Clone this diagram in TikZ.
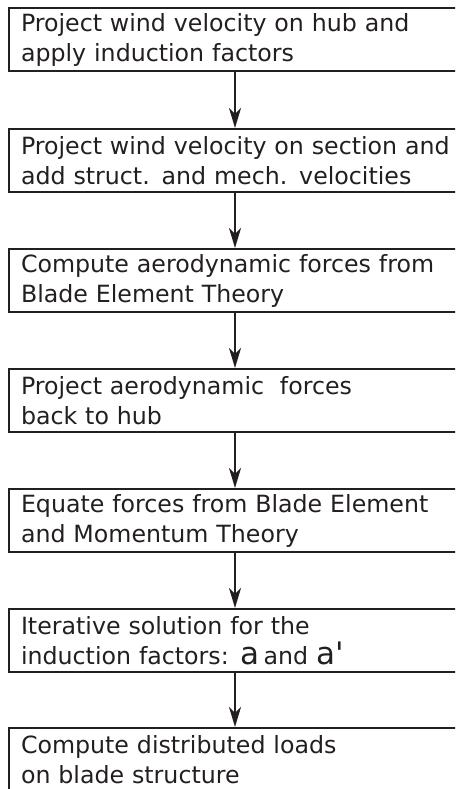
\documentclass[tikz,border=0pt]{standalone}
\usepackage{fontspec}
\setmainfont{DejaVu Sans}
\newfontfamily\plainsans{DejaVu Sans}
\usetikzlibrary{arrows.meta}
\definecolor{ink}{HTML}{231F20}
\tikzset{
  x=1pt,y=1pt,
  stepbox/.style={draw=ink, line width=2pt, rectangle, anchor=north west,
    minimum width=452pt, minimum height=63pt, text width=440pt,
    inner xsep=12pt, inner ysep=0pt, align=left, text=ink,
    font=\fontsize{23.7}{30}\selectfont},
  flow/.style={draw=ink, line width=2pt, -{Stealth[length=20pt,width=12pt,inset=6pt]}}
}
\newcommand{\biga}{{\plainsans\fontsize{31}{30}\selectfont a}}
\newcommand{\bigap}{{\plainsans\fontsize{31}{30}\selectfont a'}}
\begin{document}
\begin{tikzpicture}
\useasboundingbox (0,0) rectangle (455,-789);
\clip (0,0) rectangle (455,-789);
\node[stepbox] (b1) at (8,-7) {Project wind velocity on hub and\\apply induction factors};
\node[stepbox] (b2) at (8,-128) {Project wind velocity on section and\\add struct. and mech. velocities};
\node[stepbox] (b3) at (8,-248) {Compute aerodynamic forces from\\Blade Element Theory};
\node[stepbox] (b4) at (8,-368) {Project aerodynamic\ \ forces\\back to hub};
\node[stepbox] (b5) at (8,-488) {Equate forces from Blade Element\\and Momentum Theory};
\node[stepbox] (b6) at (8,-608) {Iterative solution for the\\induction factors: \biga{}\,and \bigap};
\node[stepbox] (b7) at (8,-727) {Compute distributed loads\\on blade structure};
\draw[flow] ([xshift=-6pt]b1.south) -- ([xshift=-6pt]b2.north);
\draw[flow] ([xshift=-6pt]b2.south) -- ([xshift=-6pt]b3.north);
\draw[flow] ([xshift=-6pt]b3.south) -- ([xshift=-6pt]b4.north);
\draw[flow] ([xshift=-6pt]b4.south) -- ([xshift=-6pt]b5.north);
\draw[flow] ([xshift=-6pt]b5.south) -- ([xshift=-6pt]b6.north);
\draw[flow] ([xshift=-6pt]b6.south) -- ([xshift=-6pt]b7.north);
\end{tikzpicture}
\end{document}
